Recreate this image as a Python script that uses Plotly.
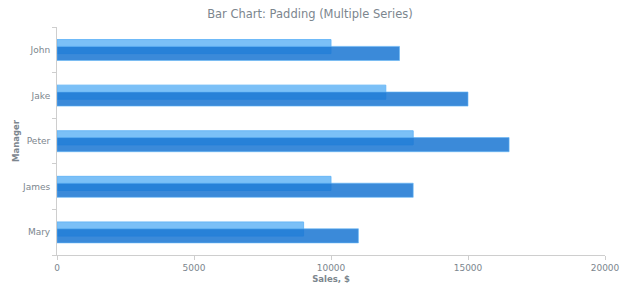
import plotly.graph_objects as go

managers = ["John", "Jake", "Peter", "James", "Mary"]
series_light = [10000, 12000, 13000, 10000, 9000]
series_dark = [12500, 15000, 16500, 13000, 11000]
x_ticks = [0, 5000, 10000, 15000, 20000]
x_tick_labels = ["0", "5000", "10000", "15000", "20000"]

cat_order = list(reversed(managers))  # Mary bottom, John top
bar_w = 0.31

fig = go.Figure()
fig.add_trace(go.Bar(
    y=managers, x=series_light, orientation="h",
    width=bar_w, offset=-bar_w / 2 + 0.07,
    marker=dict(color="rgba(100,181,246,0.85)",
                line=dict(color="rgba(100,181,246,0.9)", width=1)),
    name="Series 1", showlegend=False,
))
fig.add_trace(go.Bar(
    y=managers, x=series_dark, orientation="h",
    width=bar_w, offset=-bar_w / 2 - 0.08,
    marker=dict(color="rgba(25,118,210,0.85)",
                line=dict(color="rgba(100,181,246,0.6)", width=1)),
    name="Series 2", showlegend=False,
))

tick_font = dict(family="DejaVu Sans", size=9, color="#7c868e")
fig.update_layout(
    width=620, height=300,
    margin=dict(l=57, r=15, t=27, b=45, autoexpand=False),
    paper_bgcolor="white", plot_bgcolor="white",
    barmode="overlay",
    title=dict(text="Bar Chart: Padding (Multiple Series)",
               x=0.5, xanchor="center", y=0.953, yanchor="middle",
               font=dict(family="DejaVu Sans", size=11.5, color="#7c868e")),
    xaxis=dict(range=[0, 20000], tickvals=x_ticks, ticktext=x_tick_labels,
               showgrid=False, zeroline=False, automargin=False,
               showline=True, linecolor="#cecece", linewidth=1,
               ticks="outside", ticklen=4, tickcolor="#cecece",
               tickfont=tick_font,
               title=dict(text="<b>Sales, $</b>", standoff=4,
                          font=dict(family="DejaVu Sans", size=8.5, color="#7c868e"))),
    yaxis=dict(type="category", categoryorder="array", categoryarray=cat_order,
               range=[-0.5, 4.5], showgrid=False, zeroline=False, automargin=False,
               showline=True, linecolor="#cecece", linewidth=1,
               ticks="outside", ticklen=4, tickcolor="#cecece",
               tickson="boundaries", tickfont=tick_font, ticklabelstandoff=4,
               title=dict(text="<b>Manager</b>", standoff=1,
                          font=dict(family="DejaVu Sans", size=8.5, color="#7c868e"))),
)

fig.write_html("out.html")
